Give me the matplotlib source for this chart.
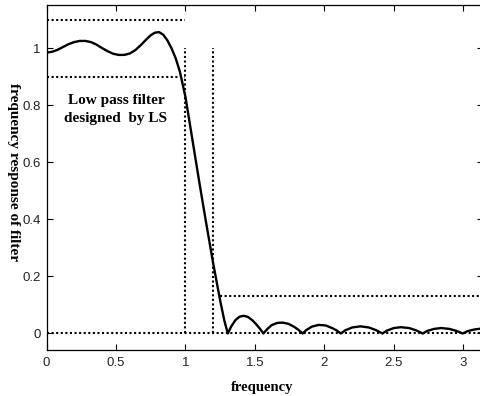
import numpy as np
import matplotlib
matplotlib.use("Agg")
import matplotlib.pyplot as plt

# frequency response
freq = [0.0, 0.04, 0.08, 0.12, 0.16, 0.2, 0.24, 0.28, 0.32, 0.36, 0.4, 0.44,
        0.48, 0.52, 0.56, 0.6, 0.64, 0.68, 0.72, 0.75, 0.78, 0.81, 0.84, 0.87,
        0.9, 0.93, 0.96, 1.0, 1.05, 1.1, 1.15, 1.2, 1.25, 1.28,
        1.305, 1.33, 1.36, 1.39, 1.42, 1.45, 1.48, 1.51, 1.54, 1.561,
        1.59, 1.62, 1.66, 1.70, 1.74, 1.78, 1.81, 1.844,
        1.87, 1.91, 1.96, 2.01, 2.06, 2.09, 2.118,
        2.15, 2.2, 2.26, 2.32, 2.37, 2.418,
        2.45, 2.5, 2.55, 2.61, 2.66, 2.708,
        2.74, 2.79, 2.84, 2.9, 2.95, 2.996,
        3.03, 3.08, 3.1416]
resp = [0.985, 0.988, 0.995, 1.005, 1.015, 1.022, 1.026, 1.026, 1.022, 1.013,
        1.001, 0.99, 0.981, 0.977, 0.977, 0.982, 0.994, 1.012, 1.032, 1.046,
        1.055, 1.057, 1.048, 1.028, 1.0, 0.965, 0.918, 0.83, 0.68, 0.53,
        0.385, 0.245, 0.115, 0.045,
        0.0, 0.025, 0.047, 0.059, 0.062, 0.058, 0.047, 0.032, 0.014, 0.0,
        0.016, 0.029, 0.037, 0.038, 0.034, 0.024, 0.014, 0.0,
        0.012, 0.024, 0.03, 0.028, 0.018, 0.01, 0.0,
        0.011, 0.021, 0.025, 0.021, 0.012, 0.0,
        0.01, 0.019, 0.022, 0.019, 0.011, 0.0,
        0.009, 0.016, 0.019, 0.016, 0.009, 0.0,
        0.008, 0.014, 0.018]

# specification lines (passband / stopband limits)
pass_edge = 1.0
stop_edge = 1.2
pass_hi, pass_lo = 1.1, 0.9
stop_lvl = 0.13
stop_start = 1.25

xticks = [0, 0.5, 1, 1.5, 2, 2.5, 3]
yticks = [0, 0.2, 0.4, 0.6, 0.8, 1]

fig = plt.figure(figsize=(4.8, 3.96), dpi=100)
ax = fig.add_axes([46.5 / 480, 46 / 396, 436.5 / 480, 344.7 / 396])

dot = dict(color="black", linestyle=(0, (1, 1.2)), linewidth=1.5)
ax.plot([0, pass_edge], [pass_hi, pass_hi], **dot)
ax.plot([0, pass_edge], [pass_lo, pass_lo], **dot)
ax.plot([pass_edge, pass_edge], [0, 1], **dot)
ax.plot([stop_edge, stop_edge], [0, 1], **dot)
ax.plot([stop_start, np.pi], [stop_lvl, stop_lvl], **dot)
ax.plot([0, np.pi], [0, 0], **dot)

ax.plot(freq, resp, color="black", linewidth=1.7)

ax.text(0.5, 0.785, "Low pass filter\ndesigned  by LS", ha="center", va="center",
        family="Liberation Serif", fontweight="bold", fontsize=11, linespacing=1.5)

ax.set_xlim(0, np.pi)
ax.set_ylim(-0.058, 1.151)
ax.set_xticks(xticks)
ax.set_xticklabels([f"{t:g}" for t in xticks])
ax.set_yticks(yticks)
ax.set_yticklabels([f"{t:g}" for t in yticks])
ax.tick_params(direction="in", length=4, width=0.8, top=True, right=True,
               labelsize=9.5, labelcolor="#222222")
ax.tick_params(axis="x", pad=5)
ax.tick_params(axis="y", pad=4)
for lab in ax.get_xticklabels() + ax.get_yticklabels():
    lab.set_family("Liberation Sans")
for s in ax.spines.values():
    s.set_linewidth(0.9)

ax.set_xlabel("frequency", family="Liberation Serif", fontweight="bold", fontsize=10.5)
ax.xaxis.set_label_coords(0.494, -0.09)
ax.set_ylabel("frequency response of filter", family="Liberation Serif",
              fontweight="bold", fontsize=11, rotation=270, va="center")
ax.yaxis.set_label_coords(-0.075, 0.515)

fig.savefig("out.png", dpi=100)
